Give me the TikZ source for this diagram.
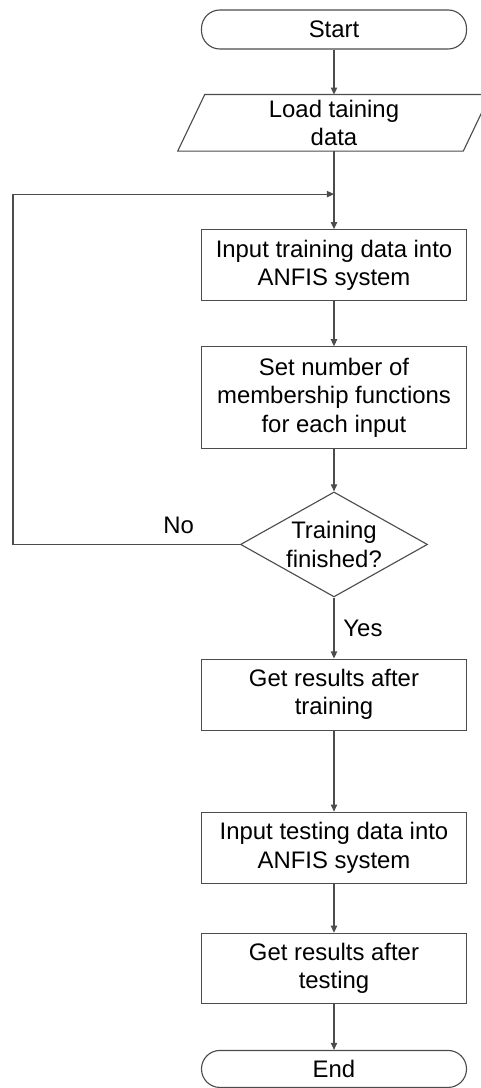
\documentclass[tikz,border=0pt]{standalone}
\usepackage{fontspec}
\setmainfont{Liberation Sans}
\usetikzlibrary{shapes.geometric, arrows.meta, positioning}

\begin{document}
\begin{tikzpicture}[
        font=\fontsize{17}{20.2}\selectfont,
        line/.style={draw=black!70, line width=0.8pt},
        box/.style={rectangle, line, align=center, minimum width=6.625cm, minimum height=1.775cm},
        terminal/.style={rectangle, line, rounded corners=0.46cm, minimum width=6.625cm, minimum height=0.975cm},
        io/.style={rectangle, draw=none, align=center, minimum width=7.125cm, minimum height=1.4cm},
        decision/.style={diamond, aspect=1.78, line, align=center, inner sep=0pt, minimum width=4.675cm, minimum height=2.625cm},
        arrow/.style={line, -{Triangle[length=5pt, width=4.5pt]}}
    ]

    \useasboundingbox (0,0) rectangle (12,-27.2);

    % Nodes
    \node (start) [terminal] at (8.35,-0.7375) {Start};
    \node (load) [io, below=1.125cm of start] {Load taining\\ data};
    \coordinate [below=1.075cm of load] (merge);
    \node (train) [box, below=1.95cm of load] {Input training data into\\ ANFIS system};
    \node (setmf) [box, minimum height=2.55cm, below=1.125cm of train] {Set number of\\ membership functions\\ for each input};
    \node (check) [decision, below=1.05cm of setmf] {Training\\ finished?};
    \node (trainres) [box, below=1.525cm of check] {Get results after\\ training};
    \node (test) [box, below=2.025cm of trainres] {Input testing data into\\ ANFIS system};
    \node (testres) [box, minimum height=1.75cm, below=1.225cm of test] {Get results after\\ testing};
    \node (end) [terminal, minimum height=0.925cm, below=1.15cm of testres] {End};
    \coordinate (rail) at (0.325,0);

    % Parallelogram outline of the input node
    \draw [line] ([xshift=-0.3375cm]load.south west) -- ([xshift=0.3375cm]load.north west)
        -- ([xshift=0.3375cm]load.north east) -- ([xshift=-0.3375cm]load.south east) -- cycle;

    % Arrows
    \draw [arrow] (start) -- (load);
    \draw [arrow] (load) -- (train);
    \draw [arrow] (train) -- (setmf);
    \draw [arrow] (setmf) -- (check);
    \draw [arrow] (check) -- node[anchor=west, xshift=3pt] {Yes} (trainres);
    \draw [arrow] (check.west) -- node[anchor=south, pos=0.27, yshift=4pt] {No} (check.west -| rail) |- (merge);
    \draw [arrow] (trainres) -- (test);
    \draw [arrow] (test) -- (testres);
    \draw [arrow] (testres) -- (end);

    \end{tikzpicture}
\end{document}
